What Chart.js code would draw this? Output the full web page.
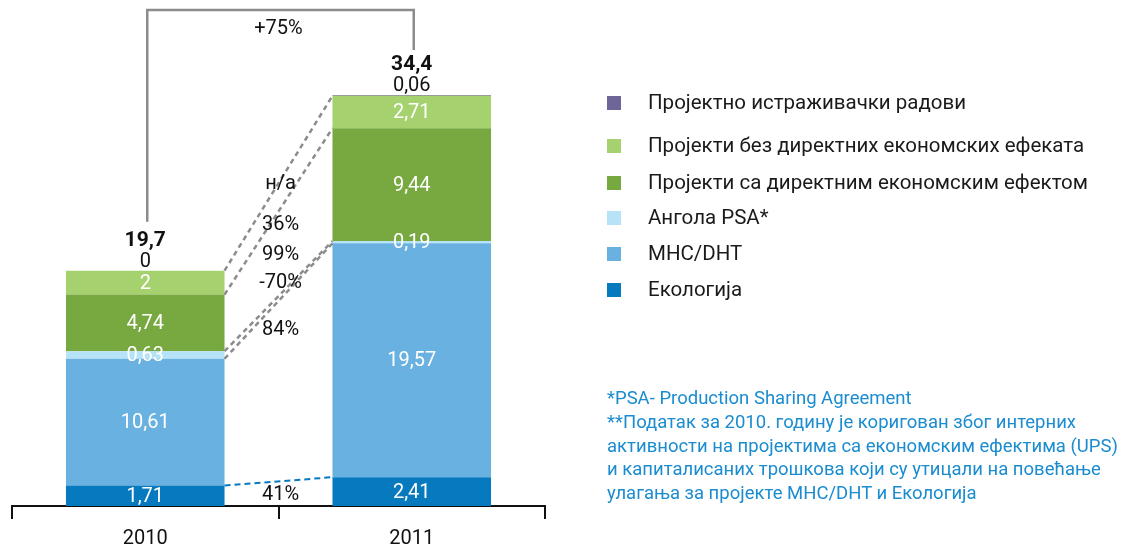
<!DOCTYPE html>
<html>
<head>
<meta charset="utf-8">
<script src="https://cdn.jsdelivr.net/npm/chart.js@4.4.0/dist/chart.umd.min.js"></script>
<style>
  html, body { margin: 0; padding: 0; background: #fff; }
  #wrap { position: relative; width: 1121px; height: 553px; }
  #note {
    position: absolute; left: 607px; top: 387px;
    font-family: Roboto, sans-serif; font-size: 18.5px; line-height: 23.8px;
    color: #1a8ccf; white-space: nowrap;
  }
</style>
</head>
<body>
<div id="wrap">
  <canvas id="investChart" width="1121" height="553"></canvas>
  <div id="note">
    *PSA- Production Sharing Agreement<br>
    **Податак за 2010. годину је коригован због интерних<br>
    активности на пројектима са економским ефектима (UPS)<br>
    и капиталисаних трошкова који су утицали на повећање<br>
    улагања за пројекте МНС/DHT и Екологија
  </div>
</div>
<script>
const years = ['2010', '2011'];

// series, bottom of the stack first
const ecology = [1.71, 2.41];
const mhcDht = [10.61, 19.57];
const angola = [0.63, 0.19];
const directEffect = [4.74, 9.44];
const noDirectEffect = [2, 2.71];
const research = [0, 0.06];

const seriesNames = [
  'Екологија',
  'МНС/DHT',
  'Ангола PSA*',
  'Пројекти са директним економским ефектом',
  'Пројекти без директних економских ефеката',
  'Пројектно истраживачки радови'
];
const seriesColors = ['#0779bf', '#69b1e0', '#b6e3f8', '#78a941', '#a5d16f', '#6e6599'];

const totals = ['19,7', '34,4'];
const changes = ['41%', '84%', '-70%', '99%', '36%', 'н/а'];
const growth = '+75%';

// layout only
const changeLabelY = [495, 330, 283, 255, 225, 184];
const legendRowY = [290, 254, 218, 183, 146, 103];

const fmt = v => String(v).replace('.', ',');
const FONT = 'Roboto, sans-serif';

const overlay = {
  id: 'overlay',
  afterDatasetsDraw(chart) {
    const ctx = chart.ctx;
    const b0 = i => chart.getDatasetMeta(i).data[0];
    const b1 = i => chart.getDatasetMeta(i).data[1];
    const x0 = b0(0).x + b0(0).width / 2;
    const x1 = b1(0).x - b1(0).width / 2;

    ctx.save();
    // grey dashed connectors around "no direct" and "Angola" bands
    ctx.strokeStyle = '#8c8c8c';
    ctx.lineWidth = 2.5;
    ctx.setLineDash([5, 4]);
    [4, 2].forEach(i => {
      [[b0(i).y, b1(i).y], [b0(i).base, b1(i).base]].forEach(([ya, yb]) => {
        ctx.beginPath();
        ctx.moveTo(x0, ya);
        ctx.lineTo(x1, yb);
        ctx.stroke();
      });
    });
    // blue dashed connector on ecology
    ctx.strokeStyle = seriesColors[0];
    ctx.lineWidth = 2;
    ctx.setLineDash([6, 4]);
    ctx.beginPath();
    ctx.moveTo(x0, b0(0).y);
    ctx.lineTo(x1, b1(0).y);
    ctx.stroke();
    ctx.restore();
  },
  afterDraw(chart) {
    const ctx = chart.ctx;
    const n = chart.data.datasets.length;
    ctx.save();
    ctx.textAlign = 'center';
    ctx.textBaseline = 'middle';

    // values inside segments
    chart.data.datasets.forEach((ds, i) => {
      if (i === n - 1) return;
      chart.getDatasetMeta(i).data.forEach((bar, j) => {
        ctx.fillStyle = '#fff';
        ctx.font = '20px ' + FONT;
        ctx.fillText(fmt(ds.data[j]), bar.x, (bar.y + bar.base) / 2 + 1);
      });
    });

    // top series value + totals above bars
    const topMeta = chart.getDatasetMeta(n - 1);
    topMeta.data.forEach((bar, j) => {
      ctx.fillStyle = '#111';
      ctx.font = '20px ' + FONT;
      ctx.fillText(fmt(chart.data.datasets[n - 1].data[j]), bar.x, bar.y - 9);
      ctx.font = 'bold 21px ' + FONT;
      ctx.fillText(totals[j], bar.x, bar.y - 30);
    });

    // bracket with growth
    const a = topMeta.data[0], c = topMeta.data[1];
    const topY = 10;
    ctx.strokeStyle = '#8c8c8c';
    ctx.lineWidth = 2.5;
    ctx.beginPath();
    ctx.moveTo(a.x + 2, a.y - 49);
    ctx.lineTo(a.x + 2, topY);
    ctx.lineTo(c.x + 2, topY);
    ctx.lineTo(c.x + 2, c.y - 45);
    ctx.stroke();
    const midX = (chart.chartArea.left + chart.chartArea.right) / 2;
    ctx.fillStyle = '#111';
    ctx.font = '20px ' + FONT;
    ctx.fillText(growth, midX, 29);

    // change labels between bars
    changes.forEach((t, i) => ctx.fillText(t, midX + 2, changeLabelY[i]));

    // legend, top series first
    ctx.textAlign = 'left';
    ctx.font = '20.5px ' + FONT;
    chart.data.datasets.forEach((ds, i) => {
      const y = legendRowY[i];
      ctx.fillStyle = ds.backgroundColor;
      ctx.fillRect(607, y - 7, 14, 14);
      ctx.fillStyle = '#1a1a1a';
      ctx.fillText(ds.label, 648, y + 1);
    });
    ctx.restore();
  }
};

const seriesData = [ecology, mhcDht, angola, directEffect, noDirectEffect, research];

const config = {
  type: 'bar',
  data: {
    labels: years,
    datasets: seriesData.map((d, i) => ({
      label: seriesNames[i],
      data: d,
      backgroundColor: seriesColors[i],
      borderWidth: 0,
      categoryPercentage: 1,
      barPercentage: 0.595
    }))
  },
  options: {
    responsive: false,
    animation: false,
    layout: { padding: { left: 12, right: 576, top: 10, bottom: 1 } },
    plugins: {
      legend: { display: false },
      tooltip: { enabled: false }
    },
    scales: {
      x: {
        stacked: true,
        offset: true,
        afterFit(scale) { scale.height = 46; },
        border: { display: true, color: '#111', width: 2 },
        grid: {
          display: true,
          offset: true,
          drawOnChartArea: false,
          drawTicks: true,
          tickLength: 13,
          color: '#111',
          lineWidth: 2
        },
        ticks: { color: '#111', font: { family: FONT, size: 20 }, padding: 8 }
      },
      y: {
        stacked: true,
        display: false,
        min: 0,
        max: 41.5
      }
    }
  },
  plugins: [overlay]
};

const ctx = document.getElementById('investChart').getContext('2d');
const investChart = new Chart(ctx, config);
</script>
</body>
</html>
